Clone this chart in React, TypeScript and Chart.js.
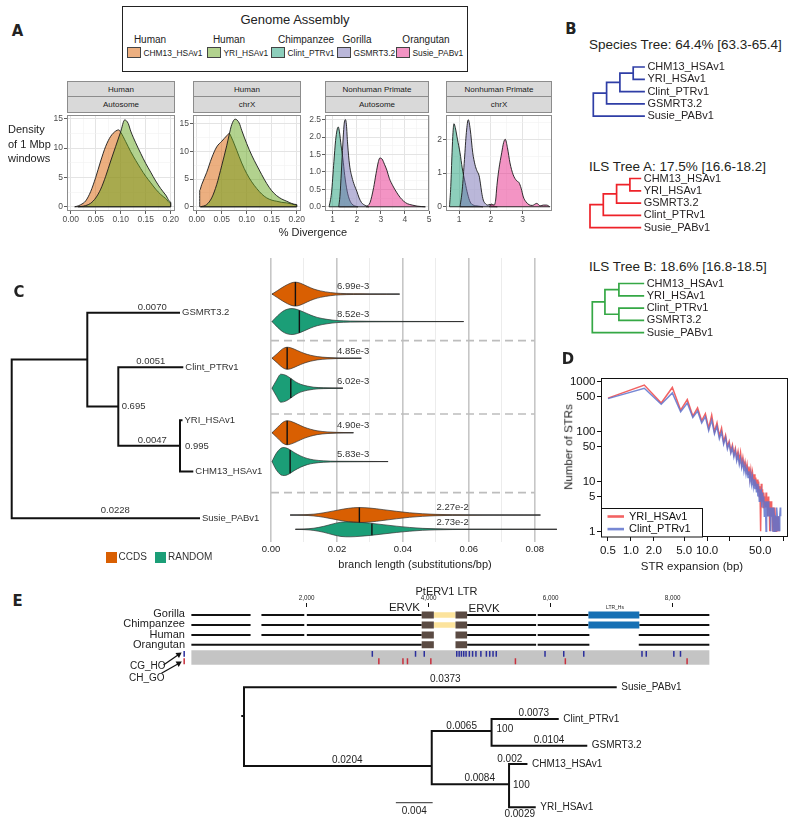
import React, { useEffect, useRef } from "react";
import { Chart, registerables } from "chart.js";

Chart.register(...registerables);

const FONT = '"Liberation Sans", Arial, Helvetica, sans-serif';
const NARROW = '"Liberation Sans Narrow", "DejaVu Sans Condensed", "Liberation Sans", Arial, sans-serif';
Chart.defaults.font.family = FONT;
Chart.defaults.color = "#222";

/* ===================== DATA ===================== */
// ---- Panel A ----
const assemblyNames = ["CHM13_HSAv1", "YRI_HSAv1", "Clint_PTRv1", "GSMRT3.2", "Susie_PABv1"];
const assemblySpecies = ["Human", "Human", "Chimpanzee", "Gorilla", "Orangutan"];
const facetGroup = ["Human", "Human", "Nonhuman Primate", "Nonhuman Primate"];
const facetChrom = ["Autosome", "chrX", "Autosome", "chrX"];

const humAutoCHM13X = [0.008, 0.015, 0.02, 0.03, 0.04, 0.05, 0.06, 0.07, 0.08, 0.09, 0.096, 0.1, 0.11, 0.12, 0.13, 0.14, 0.15, 0.16, 0.17, 0.18, 0.19, 0.2];
const humAutoCHM13Y = [0, 0.15, 0.35, 1.0, 2.6, 5.0, 7.8, 10.3, 12.0, 12.9, 13.1, 12.7, 11.1, 9.4, 7.9, 6.5, 5.2, 4.1, 3.0, 2.1, 1.4, 0.6];
const humAutoYRIX = [0.015, 0.025, 0.03, 0.04, 0.05, 0.06, 0.07, 0.08, 0.09, 0.1, 0.108, 0.115, 0.12, 0.13, 0.14, 0.15, 0.16, 0.17, 0.18, 0.19, 0.2];
const humAutoYRIY = [0, 0.1, 0.2, 0.6, 1.5, 3.0, 5.2, 7.8, 10.3, 12.8, 14.8, 14.2, 12.9, 10.9, 9.1, 7.4, 5.9, 4.4, 3.1, 2.0, 0.8];
const humXCHM13X = [0.006, 0.01, 0.02, 0.03, 0.04, 0.05, 0.06, 0.065, 0.07, 0.08, 0.09, 0.1, 0.11, 0.12, 0.13, 0.14, 0.15, 0.16, 0.17, 0.18, 0.19, 0.2];
const humXCHM13Y = [3.0, 4.0, 6.2, 8.8, 10.8, 11.8, 12.8, 13.2, 12.4, 10.2, 7.9, 6.0, 4.5, 3.3, 2.3, 1.6, 1.2, 1.0, 0.8, 0.7, 0.5, 0.3];
const humXYRIX = [0.008, 0.02, 0.03, 0.04, 0.05, 0.06, 0.065, 0.07, 0.077, 0.085, 0.09, 0.1, 0.11, 0.12, 0.13, 0.14, 0.15, 0.16, 0.17, 0.18, 0.19, 0.2];
const humXYRIY = [0, 0.4, 1.6, 4.0, 7.4, 11.0, 13.0, 14.8, 15.8, 15.1, 13.8, 11.4, 9.3, 7.5, 5.8, 4.2, 2.9, 2.0, 1.4, 1.0, 0.6, 0.4];
const nhpAutoClintX = [0.85, 0.95, 1.05, 1.12, 1.18, 1.23, 1.28, 1.35, 1.42, 1.5, 1.6, 1.7, 1.8, 1.9, 2.05];
const nhpAutoClintY = [0, 0.4, 1.3, 1.9, 2.2, 2.29, 2.15, 1.75, 1.4, 0.9, 0.45, 0.2, 0.08, 0.03, 0];
const nhpAutoGSMRTX = [1.25, 1.3, 1.36, 1.42, 1.48, 1.53, 1.57, 1.62, 1.7, 1.8, 1.9, 2.0, 2.1, 2.2, 2.35, 2.5];
const nhpAutoGSMRTY = [0, 0.3, 1.0, 1.8, 2.4, 2.5, 2.35, 1.8, 1.2, 0.85, 0.62, 0.45, 0.25, 0.12, 0.04, 0];
const nhpAutoSusieX = [2.4, 2.55, 2.7, 2.8, 2.9, 2.96, 3.05, 3.15, 3.25, 3.35, 3.5, 3.65, 3.8, 3.95, 4.1, 4.3, 4.5, 4.85];
const nhpAutoSusieY = [0, 0.12, 0.55, 0.95, 1.3, 1.4, 1.37, 1.22, 1.05, 0.82, 0.6, 0.42, 0.27, 0.16, 0.09, 0.05, 0.02, 0];
const nhpXClintX = [0.7, 0.74, 0.78, 0.81, 0.84, 0.88, 0.95, 1.03, 1.1, 1.19, 1.27, 1.35, 1.45, 1.6, 1.75];
const nhpXClintY = [0, 0.6, 1.6, 2.2, 2.46, 2.35, 2.0, 1.6, 1.15, 0.72, 0.38, 0.14, 0.05, 0.02, 0];
const nhpXGSMRTX = [1.03, 1.1, 1.17, 1.23, 1.29, 1.35, 1.43, 1.5, 1.56, 1.63, 1.67, 1.71, 1.76, 1.82, 1.9, 1.97, 2.05, 2.2];
const nhpXGSMRTY = [0, 0.5, 1.4, 2.2, 2.58, 2.3, 1.6, 1.25, 1.07, 0.92, 0.7, 0.43, 0.2, 0.1, 0.05, 0.07, 0.03, 0];
const nhpXSusieX = [1.95, 2.02, 2.1, 2.15, 2.19, 2.25, 2.34, 2.4, 2.45, 2.52, 2.6, 2.7, 2.81, 2.88, 2.95, 3.02, 3.1, 3.2, 3.3, 3.44, 3.55, 3.65, 3.75, 3.85];
const nhpXSusieY = [0, 0.08, 0.05, 0.2, 0.63, 1.1, 1.6, 1.9, 2.0, 1.75, 1.3, 0.95, 0.77, 0.72, 0.55, 0.29, 0.15, 0.06, 0.04, 0.1, 0.03, 0.05, 0.05, 0];

const aXTicks = [[0, 0.05, 0.1, 0.15, 0.2], [0, 0.05, 0.1, 0.15, 0.2], [1, 2, 3, 4, 5], [1, 2, 3]];
const aXTickLabels = [["0.00", "0.05", "0.10", "0.15", "0.20"], ["0.00", "0.05", "0.10", "0.15", "0.20"], ["1", "2", "3", "4", "5"], ["1", "2", "3"]];
const aYTicks = [[0, 5, 10, 15], [0, 5, 10, 15], [0, 0.5, 1, 1.5, 2, 2.5], [0, 1, 2]];
const aYTickLabels = [["0", "5", "10", "15"], ["0", "5", "10", "15"], ["0.0", "0.5", "1.0", "1.5", "2.0", "2.5"], ["0", "1", "2"]];

// ---- Panel B ----
const bTitles = ["Species Tree: 64.4% [63.3-65.4]", "ILS Tree A: 17.5% [16.6-18.2]", "ILS Tree B: 18.6% [16.8-18.5]"];
const bNames = [
  ["", "", "", "", "CHM13_HSAv1", "YRI_HSAv1", "Clint_PTRv1", "GSMRT3.2", "Susie_PABv1"],
  ["", "", "", "", "CHM13_HSAv1", "YRI_HSAv1", "GSMRT3.2", "Clint_PTRv1", "Susie_PABv1"],
  ["", "", "", "", "CHM13_HSAv1", "YRI_HSAv1", "Clint_PTRv1", "GSMRT3.2", "Susie_PABv1"],
];
const bParents = [
  [-1, 0, 1, 2, 3, 3, 2, 1, 0],
  [-1, 0, 1, 2, 3, 3, 2, 1, 0],
  [-1, 0, 1, 1, 2, 2, 3, 3, 0],
];
const bDepth = [
  [0, 1, 2, 3, 3.88, 3.88, 3.88, 3.88, 3.88],
  [0, 1, 2, 3, 3.85, 3.85, 3.85, 3.85, 3.85],
  [0, 0.95, 2, 2, 3.9, 3.9, 3.9, 3.9, 3.9],
];
const bRank = [-1, -1, -1, -1, 0, 1, 2, 3, 4];

// ---- Panel C: tree ----
const cNames = ["", "", "GSMRT3.2", "", "Clint_PTRv1", "", "YRI_HSAv1", "CHM13_HSAv1", "Susie_PABv1"];
const cParents = [-1, 0, 1, 1, 3, 3, 5, 5, 0];
const cDepth = [1.17, 8.73, 18.0, 11.83, 18.33, 18.0, 18.25, 19.33, 20.0];
const cRank = [-1, -1, 0, -1, 1.06, -1, 2.09, 3.09, 4];
const cBranchLabels = ["", "", "0.0070", "", "0.0051", "0.0047", "", "", "0.0228"];
const cSupport = ["", "", "", "0.695", "", "0.995", "", "", ""];

// ---- Panel C: violins ----
const violinSpecies = ["GSMRT3.2", "GSMRT3.2", "Clint_PTRv1", "Clint_PTRv1", "YRI_HSAv1", "YRI_HSAv1", "Susie_PABv1", "Susie_PABv1"];
const violinSet = ["CCDS", "RANDOM", "CCDS", "RANDOM", "CCDS", "RANDOM", "CCDS", "RANDOM"];
const vGsCcdsX = [0.0003, 0.002, 0.004, 0.006, 0.0074, 0.009, 0.011, 0.013, 0.015, 0.018, 0.021, 0.025, 0.03, 0.035, 0.039];
const vGsCcdsW = [0, 0.3, 0.65, 0.92, 1.0, 0.9, 0.65, 0.42, 0.27, 0.13, 0.06, 0.03, 0.015, 0.008, 0];
const vGsRandX = [0.0003, 0.002, 0.004, 0.0064, 0.008, 0.01, 0.012, 0.014, 0.017, 0.02, 0.024, 0.03, 0.04, 0.05, 0.0584];
const vGsRandW = [0, 0.45, 0.85, 1.0, 0.92, 0.72, 0.5, 0.32, 0.17, 0.08, 0.04, 0.02, 0.01, 0.005, 0];
const vPtCcdsX = [0.0003, 0.002, 0.0035, 0.0049, 0.006, 0.008, 0.01, 0.012, 0.014, 0.017, 0.02, 0.0274];
const vPtCcdsW = [0, 0.45, 0.85, 1.0, 0.95, 0.7, 0.45, 0.27, 0.15, 0.07, 0.03, 0];
const vPtRandX = [0.0003, 0.0015, 0.003, 0.0045, 0.006, 0.0075, 0.009, 0.011, 0.013, 0.016, 0.0218];
const vPtRandW = [0, 0.5, 1.0, 0.92, 0.7, 0.45, 0.28, 0.15, 0.07, 0.03, 0];
const vHsCcdsX = [0.0003, 0.002, 0.0035, 0.0049, 0.006, 0.008, 0.01, 0.012, 0.014, 0.017, 0.02, 0.025];
const vHsCcdsW = [0, 0.45, 0.85, 1.0, 0.95, 0.72, 0.47, 0.29, 0.16, 0.07, 0.03, 0];
const vHsRandX = [0.0003, 0.0015, 0.003, 0.004, 0.0055, 0.007, 0.009, 0.011, 0.013, 0.016, 0.02, 0.028, 0.0355];
const vHsRandW = [0, 0.55, 0.95, 1.0, 0.88, 0.65, 0.4, 0.22, 0.12, 0.05, 0.02, 0.01, 0];
const vPaCcdsX = [0.0058, 0.01, 0.013, 0.016, 0.019, 0.022, 0.025, 0.027, 0.03, 0.034, 0.038, 0.042, 0.046, 0.05, 0.055, 0.06, 0.07, 0.0817];
const vPaCcdsW = [0, 0.04, 0.12, 0.3, 0.55, 0.8, 0.97, 1.0, 0.93, 0.72, 0.5, 0.3, 0.17, 0.09, 0.04, 0.02, 0.01, 0];
const vPaRandX = [0.0074, 0.01, 0.013, 0.016, 0.019, 0.0212, 0.024, 0.027, 0.03, 0.034, 0.038, 0.042, 0.046, 0.05, 0.055, 0.06, 0.07, 0.0867];
const vPaRandW = [0, 0.04, 0.15, 0.4, 0.75, 0.95, 1.0, 0.93, 0.82, 0.62, 0.42, 0.25, 0.13, 0.07, 0.03, 0.015, 0.008, 0];
const violinMedians = [0.0074, 0.0086, 0.0049, 0.006, 0.0049, 0.0058, 0.0268, 0.0306];
const violinMeanLabels = ["6.99e-3", "8.52e-3", "4.85e-3", "6.02e-3", "4.90e-3", "5.83e-3", "2.27e-2", "2.73e-2"];
const cXTicks = [0, 0.02, 0.04, 0.06, 0.08];
const cXTickLabels = ["0.00", "0.02", "0.04", "0.06", "0.08"];
const cLegend = ["CCDS", "RANDOM"];

// ---- Panel D ----
const strExpansion = [0.5, 1.5, 2.5, 3.5, 4.5, 5.5, 6.5, 7.5, 8.5, 9.5, 10.5, 11.5, 12.5, 13.5, 14.5, 15.5, 16.5, 17.5, 18.5, 19.5, 20.5, 21.5, 22.5, 23.5, 24.5, 25.5, 26.5, 27.5, 28.5, 29.5, 30.5, 31.5, 32.5, 33.5, 34.5, 35.5, 36.5, 37.5, 38.5, 39.5, 40.5, 41.5, 42.5, 43.5, 44.5, 45.5, 46.5, 47.5, 48.5, 49.5, 50.5, 51.5, 52.5, 53.5, 54.5, 55.5, 56.5, 57.5, 58.5, 59.5, 60.5, 61.5, 62.5, 63.5, 64.5, 65.5, 66.5, 67.5, 68.5, 69.5, 70.5, 71.5, 72.5, 73.5, 74.5, 75.5, 76.5, 77.5, 78.5, 79.5, 80.5, 81.5, 82.5, 83.5, 84.5, 85.5, 86.5, 87.5, 88.5, 89.5, 90.5, 91.5, 92.5];
const strCountYRI = [470, 860, 375, 770, 270, 440, 205, 300, 165, 230,
  118, 215, 100, 150, 82, 118, 62, 85, 50, 64,
  40, 54, 35, 46, 30, 40, 26, 38, 22, 30,
  20, 25, 17, 22, 14, 20, 12, 17, 11, 15,
  10, 14, 8, 12, 7, 11, 6, 10, 5, 8,
  1, 9, 4, 7, 3, 6, 4, 5, 3, 6,
  3, 4, 2, 5, 3, 4, 1, 3, 2, 4,
  2, 3, 1, 3, 2, 2, 1, 3, 2, 2,
  1, 2, 1, 2, 1, 2, 1, 2, 1];
const strCountClint = [460, 740, 355, 600, 250, 375, 192, 260, 150, 200,
  105, 170, 90, 128, 72, 98, 56, 76, 45, 58,
  37, 48, 31, 41, 26, 34, 22, 29, 19, 25,
  16, 21, 14, 18, 12, 16, 10, 14, 9, 12,
  8, 11, 7, 10, 6, 9, 5, 8, 4, 7,
  5, 6, 3, 6, 4, 5, 2, 4, 3, 1,
  4, 3, 2, 4, 2, 3, 2, 3, 1, 3,
  2, 2, 3, 1, 2, 3, 2, 2, 1, 2,
  2, 1, 3, 2, 1, 2, 2, 1, 2, 1,
  2, 3, 2];
const dSeriesNames = ["YRI_HSAv1", "Clint_PTRv1"];
const dXTicks = [0.5, 1, 2, 5, 10, 20, 50, 100];
const dXTickLabels = ["0.5", "1.0", "2.0", "5.0", "10.0", "", "50.0", ""];
const dYTicks = [1, 5, 10, 50, 100, 500, 1000];
const dYTickLabels = ["1", "5", "10", "50", "100", "500", "1000"];

// ---- Panel E: alignment ----
const alignRows = ["Gorilla", "Chimpanzee", "Human", "Orangutan"];
const alignExtent = [113, 8601];
const alignSegments = [
  [[113, 1083], [1261, 1963], [2005, 3887], [4631, 5762], [5788, 6619], [7453, 8601]],
  [[113, 1083], [1261, 1963], [2005, 3887], [4631, 5762], [5788, 6619], [7453, 8601]],
  [[113, 1083], [1261, 1963], [2005, 3887], [4631, 5762], [5788, 6635], [7444, 8601]],
  [[113, 3887], [4631, 5762], [5788, 6635], [7444, 8601]],
];
const ervkSpans = [[3887, 4086], [4441, 4631]];
const ervkRows = [0, 1, 2, 3];
const ptervSpan = [4086, 4441];
const ptervRows = [0, 1];
const ltrHsSpan = [6619, 7453];
const ltrHsRows = [0, 1];
const positionTicks = [2000, 4000, 6000, 8000];
const positionTickLabels = ["2,000", "4,000", "6,000", "8,000"];
const snvCG_HO = [3078, 3786, 3929, 4462, 4501, 4538, 4576, 4614, 4668, 4721, 4776, 4857, 4947, 5002, 5056, 5109, 5908, 6215, 6543, 7497, 7567, 8019, 8128];
const snvCH_GO = [3185, 3580, 3654, 4037, 5423, 6241, 8236];

// ---- Panel E: tree ----
const eNames = ["", "Susie_PABv1", "", "", "Clint_PTRv1", "GSMRT3.2", "", "CHM13_HSAv1", "YRI_HSAv1"];
const eParents = [-1, 0, 0, 2, 3, 3, 2, 6, 6];
const eBranchLen = [0, 0.0405, 0.0204, 0.0065, 0.0073, 0.0104, 0.0084, 0.002, 0.0029];
const eBranchLabels = ["", "0.0373", "0.0204", "0.0065", "0.0073", "0.0104", "0.0084", "0.002", "0.0029"];
const eSupport = ["", "", "", "100", "", "", "100", "", ""];
const eScaleBarLen = 0.004;
const eScaleBarLabel = "0.004";

/* ===================== STYLE / LAYOUT ===================== */
const assemblyFill = ["rgba(217,95,2,0.5)", "rgba(102,166,30,0.5)", "rgba(27,158,119,0.5)", "rgba(117,112,179,0.5)", "rgba(231,41,138,0.5)"];
const A_PLOT = { left: [67, 193, 325, 446], right: [175, 301, 429, 552], top: 113, bottom: 211 };
const A_XRANGE = [[-0.0074, 0.2086], [-0.0074, 0.2086], [0.68, 5.0], [0.59, 3.92]];
const A_YRANGE = [[-0.72, 15.62], [-0.76, 16.53], [-0.12, 2.63], [-0.125, 2.716]];
const A_LEG_SW_X = [127, 207, 271, 337, 396];
const A_LEG_SPECIES_X = [150, 229, 306, 357, 426];
const B_LAYOUT = [
  { rootPx: 593.3, leafY: 67, titleY: 45, color: "#2f3ea6" },
  { rootPx: 590, leafY: 178.5, titleY: 166.7, color: "#ee2229" },
  { rootPx: 592.3, leafY: 283.5, titleY: 266.7, color: "#35a845" },
];
const VIOLIN_CENTER = [1.29, 2.27, 3.58, 4.65, 6.24, 7.27, 9.18, 9.69];
const VIOLIN_HALF_PX = [12, 13, 11, 14, 12, 14, 7.5, 7.5];
const VIOLIN_LABEL_X = [0.02, 0.02, 0.02, 0.02, 0.02, 0.02, 0.0502, 0.0502];
const VIOLIN_SEPARATORS = [2.95, 5.57, 8.38];
const setColor: any = { CCDS: "#d95f02", RANDOM: "#1b9e77" };
const C_LABEL_F = [0, 0, 0.7, 0, 0.5, 0.55, 0, 0, 0.55];
const C_LABEL_DY = [0, 0, -5, 0, -5.5, -5, 0, 0, -7.5];
const E_NODE_Y = [4.1, 1.23, 9.1, 5.6, 4.4, 7.07, 10.93, 8.9, 13.23];
const E_LABEL_F = [0, 0.54, 0.55, 0.5, 0.63, 0.6, 0.62, 0.04, 0.4];
const E_LABEL_DY = [0, -8, -5.5, -5, -5.3, -5, -6, -4.7, 6.7];

/* ===================== HELPERS ===================== */
const baseOpts = (): any => ({
  animation: false,
  responsive: false,
  maintainAspectRatio: false,
  events: [],
  plugins: {
    legend: { display: false },
    tooltip: { enabled: false },
    filler: { drawTime: "beforeDatasetDraw", propagate: false },
  },
  elements: { point: { radius: 0, hitRadius: 0 }, line: { borderJoinStyle: "miter" } },
});

const hiddenScale = (min: number, max: number, reverse = false): any => ({ type: "linear", display: false, min, max, reverse, bounds: "data" });

type TextItem = { x: number; y: number; text: string; dx?: number; dy?: number; align?: string; size?: number; color?: string };
function textPlugin(items: TextItem[]) {
  return {
    id: "dataText",
    afterDatasetsDraw(chart: any) {
      const { ctx, scales } = chart;
      ctx.save();
      for (const t of items) {
        const px = scales.x.getPixelForValue(t.x) + (t.dx || 0);
        const py = scales.y.getPixelForValue(t.y) + (t.dy || 0);
        ctx.font = `${t.size || 10}px ${FONT}`;
        ctx.fillStyle = t.color || "#222";
        ctx.textAlign = t.align || "left";
        ctx.textBaseline = "middle";
        ctx.fillText(t.text, px, py);
      }
      ctx.restore();
    },
  };
}

function framePlugin(color: string, width = 1) {
  return {
    id: "frame",
    afterDatasetsDraw(chart: any) {
      const { ctx, chartArea: a } = chart;
      ctx.save();
      ctx.strokeStyle = color;
      ctx.lineWidth = width;
      ctx.strokeRect(Math.round(a.left) + 0.5, Math.round(a.top) + 0.5, Math.round(a.right - a.left) - 1, Math.round(a.bottom - a.top) - 1);
      ctx.restore();
    },
  };
}

function cladeY(parents: number[], rank: number[]) {
  const n = parents.length;
  const kids: number[][] = Array.from({ length: n }, () => []);
  parents.forEach((p, i) => { if (p >= 0) kids[p].push(i); });
  const y: number[] = new Array(n).fill(0);
  const f = (i: number): number => {
    if (kids[i].length === 0) { y[i] = rank[i]; return y[i]; }
    const v = kids[i].map(f);
    y[i] = v.reduce((a, b) => a + b, 0) / v.length;
    return y[i];
  };
  f(parents.indexOf(-1));
  return y;
}

function cumulativeX(parents: number[], len: number[]) {
  const x: number[] = [];
  const f = (i: number): number => {
    if (x[i] !== undefined) return x[i];
    x[i] = parents[i] < 0 ? 0 : f(parents[i]) + len[i];
    return x[i];
  };
  parents.forEach((_, i) => f(i));
  return x;
}

function treeLines(parents: number[], xs: number[], ys: number[]) {
  const pts: any[] = [];
  parents.forEach((p, i) => {
    if (p < 0) return;
    pts.push({ x: xs[p], y: ys[p] }, { x: xs[p], y: ys[i] }, { x: xs[i], y: ys[i] }, { x: null, y: null });
  });
  return pts;
}

function interp(xs: number[], ws: number[], m: number) {
  for (let i = 1; i < xs.length; i++) {
    if (m <= xs[i]) {
      const t = (m - xs[i - 1]) / (xs[i] - xs[i - 1]);
      return ws[i - 1] + t * (ws[i] - ws[i - 1]);
    }
  }
  return 0;
}

const near = (arr: number[], v: number) => arr.findIndex((a) => Math.abs(a - v) < 1e-9);
const midpoints = (arr: number[], min: number, max: number) => {
  const step = arr[1] - arr[0];
  const out: number[] = [];
  for (let v = arr[0] - step / 2; v <= max; v += step) if (v >= min) out.push(v);
  return out.filter((v) => near(arr, v) < 0);
};

/* ===================== CONFIGS ===================== */
const A_SERIES = [
  [{ xs: humAutoCHM13X, ys: humAutoCHM13Y, k: 0 }, { xs: humAutoYRIX, ys: humAutoYRIY, k: 1 }],
  [{ xs: humXCHM13X, ys: humXCHM13Y, k: 0 }, { xs: humXYRIX, ys: humXYRIY, k: 1 }],
  [{ xs: nhpAutoClintX, ys: nhpAutoClintY, k: 2 }, { xs: nhpAutoGSMRTX, ys: nhpAutoGSMRTY, k: 3 }, { xs: nhpAutoSusieX, ys: nhpAutoSusieY, k: 4 }],
  [{ xs: nhpXClintX, ys: nhpXClintY, k: 2 }, { xs: nhpXGSMRTX, ys: nhpXGSMRTY, k: 3 }, { xs: nhpXSusieX, ys: nhpXSusieY, k: 4 }],
];

function aAxis(major: number[], labels: string[], min: number, max: number, horizontal: boolean): any {
  const minor = midpoints(major, min, max);
  const all = [...major, ...minor].sort((a, b) => a - b);
  const isMajor = (c: any) => c.tick && near(major, c.tick.value) >= 0;
  return {
    type: "linear",
    min, max, bounds: "data",
    afterFit: (s: any) => { if (horizontal) s.height = 16; else s.width = 30; },
    afterBuildTicks: (s: any) => { s.ticks = all.map((v) => ({ value: v })); },
    ticks: {
      autoSkip: false, maxRotation: 0, padding: horizontal ? 0.5 : 1,
      font: { size: 8.5 }, color: "#4d4d4d",
      callback: (v: number) => { const i = near(major, v); return i >= 0 ? labels[i] : ""; },
    },
    grid: {
      color: (c: any) => (isMajor(c) ? "#e4e4e4" : "#f1f1f1"),
      lineWidth: (c: any) => (isMajor(c) ? 1 : 0.6),
      tickLength: 3,
      tickColor: (c: any) => (isMajor(c) ? "#333" : "rgba(0,0,0,0)"),
      tickWidth: 0.8,
    },
    border: { display: false },
  };
}

function aConfig(i: number) {
  const datasets: any[] = [];
  A_SERIES[i].forEach((s, j) => {
    const pts = s.xs.map((x, n) => ({ x, y: s.ys[n] }));
    const x0 = s.xs[0], x1 = s.xs[s.xs.length - 1];
    if (s.ys[0] > 0) pts.unshift({ x: x0, y: 0 });
    if (s.ys[s.ys.length - 1] > 0) pts.push({ x: x1, y: 0 });
    datasets.push({ data: pts, borderColor: "#1a1a1a", borderWidth: 0.9, backgroundColor: assemblyFill[s.k], fill: "origin", cubicInterpolationMode: "monotone", order: 20 - j * 2 });
    datasets.push({ data: [{ x: x0, y: 0 }, { x: x1, y: 0 }], borderColor: "#1a1a1a", borderWidth: 0.9, fill: false, order: 19 - j * 2 });
  });
  return {
    type: "line",
    data: { datasets },
    options: {
      ...baseOpts(),
      layout: { padding: { top: 4, right: 12, left: 0, bottom: 0 } },
      scales: {
        x: aAxis(aXTicks[i], aXTickLabels[i], A_XRANGE[i][0], A_XRANGE[i][1], true),
        y: aAxis(aYTicks[i], aYTickLabels[i], A_YRANGE[i][0], A_YRANGE[i][1], false),
      },
    },
    plugins: [framePlugin("#8c8c8c", 1)],
  };
}

function bTree(k: number) {
  const L = B_LAYOUT[k];
  const left = Math.floor(L.rootPx) - 6;
  const top = Math.floor(L.leafY) - 9;
  const W = 212, H = 66, pxX = 13.3, pxY = 12.3;
  const xMin = -(L.rootPx - left) / pxX;
  const yMin = -(L.leafY - top) / pxY;
  const ys = cladeY(bParents[k], bRank);
  const xs = bDepth[k];
  const labels: TextItem[] = [];
  bNames[k].forEach((n, i) => { if (n) labels.push({ x: xs[i], y: ys[i], text: n, dx: 2.5, size: 11, color: "#231f20" }); });
  const config = {
    type: "line",
    data: { datasets: [{ data: treeLines(bParents[k], xs, ys), borderColor: L.color, borderWidth: 1.7, fill: false }] },
    options: { ...baseOpts(), scales: { x: hiddenScale(xMin, xMin + W / pxX), y: hiddenScale(yMin, yMin + H / pxY, true) } },
    plugins: [textPlugin(labels)],
  };
  return { left, top, W, H, config };
}

function cTreeConfig() {
  const ys = cladeY(cParents, cRank);
  const xs = cDepth;
  const labels: TextItem[] = [];
  cNames.forEach((n, i) => { if (n) labels.push({ x: xs[i], y: ys[i], text: n, dx: 2, size: 9.5, color: "#333" }); });
  cBranchLabels.forEach((t, i) => {
    if (!t) return;
    const p = cParents[i];
    labels.push({ x: xs[p] + C_LABEL_F[i] * (xs[i] - xs[p]), y: ys[i], text: t, dy: C_LABEL_DY[i], align: "center", size: 9.5, color: "#333" });
  });
  cSupport.forEach((t, i) => { if (t) labels.push({ x: xs[i], y: ys[i], text: t, dx: i === 5 ? 5 : 3.4, dy: i === 5 ? 1 : 0, size: 9.5, color: "#333" }); });
  const pxY = 51.4;
  const yMin = -(312.7 - 290) / pxY;
  return {
    type: "line",
    data: { datasets: [{ data: treeLines(cParents, xs, ys), borderColor: "#111", borderWidth: 2, fill: false }] },
    options: { ...baseOpts(), scales: { x: hiddenScale(0, 26.8), y: hiddenScale(yMin, yMin + 250 / pxY, true) } },
    plugins: [textPlugin(labels)],
  };
}

const violinProfiles = [
  [vGsCcdsX, vGsCcdsW], [vGsRandX, vGsRandW], [vPtCcdsX, vPtCcdsW], [vPtRandX, vPtRandW],
  [vHsCcdsX, vHsCcdsW], [vHsRandX, vHsRandW], [vPaCcdsX, vPaCcdsW], [vPaRandX, vPaRandW],
];

function violinConfig() {
  const unit = 28;
  const datasets: any[] = [];
  VIOLIN_SEPARATORS.forEach((y) => {
    datasets.push({ data: [{ x: 0, y }, { x: 0.08, y }], borderColor: "#bdbdbd", borderWidth: 1.6, borderDash: [8, 5], fill: false, order: 50 });
  });
  violinProfiles.forEach(([xs, ws], i) => {
    const c = VIOLIN_CENTER[i];
    const h = VIOLIN_HALF_PX[i] / unit;
    const col = setColor[violinSet[i]];
    datasets.push({ data: [{ x: xs[0], y: c }, { x: xs[xs.length - 1], y: c }], borderColor: "#3a3a3a", borderWidth: 1, fill: false, order: 40, clip: false });
    datasets.push({ data: xs.map((x, n) => ({ x, y: c - ws[n] * h })), borderColor: "#333", borderWidth: 0.7, fill: false, cubicInterpolationMode: "monotone", order: 20, clip: false });
    datasets.push({ data: xs.map((x, n) => ({ x, y: c + ws[n] * h })), borderColor: "#333", borderWidth: 0.7, backgroundColor: col, fill: "-1", cubicInterpolationMode: "monotone", order: 30, clip: false });
    const m = violinMedians[i];
    const wm = interp(xs, ws, m) * h;
    datasets.push({ data: [{ x: m, y: c - wm }, { x: m, y: c + wm }], borderColor: "#111", borderWidth: 1.4, fill: false, order: 10 });
  });
  const labels: TextItem[] = violinMeanLabels.map((t, i) => ({ x: VIOLIN_LABEL_X[i], y: VIOLIN_CENTER[i], text: t, dy: -7.3, size: 9.5, color: "#333" }));
  const minor = [0.01, 0.03, 0.05, 0.07];
  const all = [...cXTicks, ...minor].sort((a, b) => a - b);
  const isMajor = (c: any) => c.tick && near(cXTicks, c.tick.value) >= 0;
  return {
    type: "line",
    data: { datasets },
    options: {
      ...baseOpts(),
      layout: { padding: { left: 16, right: 18, top: 0, bottom: 0 } },
      scales: {
        x: {
          type: "linear", min: 0, max: 0.0843, bounds: "data",
          afterFit: (s: any) => { s.height = 20; },
          afterBuildTicks: (s: any) => { s.ticks = all.map((v) => ({ value: v })); },
          ticks: { autoSkip: false, maxRotation: 0, padding: 2, font: { size: 9.5 }, color: "#222", callback: (v: number) => { const i = near(cXTicks, v); return i >= 0 ? cXTickLabels[i] : ""; } },
          grid: { drawTicks: false, color: (c: any) => (isMajor(c) ? "#c6c6c6" : "#ececec"), lineWidth: (c: any) => (isMajor(c) ? 1.6 : 1) },
          border: { display: false },
        },
        y: hiddenScale(0, 284 / unit, true),
      },
    },
    plugins: [textPlugin(labels)],
  };
}

const dLegendPlugin = {
  id: "dLegend",
  afterDatasetsDraw(chart: any) {
    const { ctx, chartArea: a } = chart;
    const x = Math.round(a.left) + 0.5, y = Math.round(a.bottom) - 29 + 0.5;
    ctx.save();
    ctx.fillStyle = "#fff";
    ctx.fillRect(x, y, 101, 28.5);
    ctx.strokeStyle = "#111";
    ctx.lineWidth = 1;
    ctx.strokeRect(x, y, 101, 28.5);
    chart.data.datasets.forEach((d: any, i: number) => {
      const yy = y + 8 + i * 12.6;
      ctx.strokeStyle = d.borderColor;
      ctx.lineWidth = 2.6;
      ctx.beginPath();
      ctx.moveTo(x + 6, yy);
      ctx.lineTo(x + 22.5, yy);
      ctx.stroke();
      ctx.fillStyle = "#111";
      ctx.font = `11px ${FONT}`;
      ctx.textBaseline = "middle";
      ctx.textAlign = "left";
      ctx.fillText(d.label, x + 27.5, yy);
    });
    ctx.restore();
  },
};

function dConfig() {
  const counts = [strCountYRI, strCountClint];
  const colors = ["rgba(240,70,70,0.85)", "rgba(95,115,205,0.85)"];
  const datasets = counts.map((vals, k) => ({
    label: dSeriesNames[k],
    data: vals.map((v, i) => ({ x: strExpansion[i], y: v })),
    borderColor: colors[k],
    borderWidth: 1.5,
    fill: false,
    order: 2 - k,
  }));
  const axis = (ticks: number[], labels: string[], min: number, max: number, horizontal: boolean): any => ({
    type: "logarithmic", min, max, bounds: "data",
    afterFit: (s: any) => { if (horizontal) s.height = 23; else s.width = 45; },
    afterBuildTicks: (s: any) => { s.ticks = ticks.map((v) => ({ value: v })); },
    ticks: { autoSkip: false, maxRotation: 0, padding: horizontal ? 3 : 1.5, font: { size: 11.5 }, color: "#111", callback: (v: number, i: number) => labels[i] },
    grid: { drawOnChartArea: false, tickLength: 4, tickColor: "#111", tickWidth: 1 },
    border: { display: false },
  });
  return {
    type: "line",
    data: { datasets },
    options: {
      ...baseOpts(),
      layout: { padding: { top: 8, right: 8, left: 0, bottom: 0 } },
      scales: {
        x: axis(dXTicks, dXTickLabels, 0.405, 115.5, true),
        y: axis(dYTicks, dYTickLabels, 0.77, 1170, false),
      },
    },
    plugins: [framePlugin("#111", 1), dLegendPlugin],
  };
}

function alignConfig() {
  const rowLines: any[] = [];
  alignSegments.forEach((segs, r) => segs.forEach(([a, b]) => rowLines.push({ x: a, y: r }, { x: b, y: r }, { x: null, y: null })));
  const boxes = (spans: number[][], rows: number[]) => {
    const pts: any[] = [];
    rows.forEach((r) => spans.forEach(([a, b]) => pts.push({ x: a, y: r }, { x: b, y: r }, { x: null, y: null })));
    return pts;
  };
  const ticks = (pos: number[], y0: number, y1: number) => pos.flatMap((p) => [{ x: p, y: y0 }, { x: p, y: y1 }, { x: null, y: null }]);
  const TRACK_Y = 4.28, LEG_X = -5;
  const datasets: any[] = [
    { data: [{ x: alignExtent[0], y: TRACK_Y }, { x: alignExtent[1], y: TRACK_Y }], borderColor: "#c4c4c4", borderWidth: 14.6, order: 9 },
    { data: rowLines, borderColor: "#111", borderWidth: 2, order: 8 },
    { data: boxes(ervkSpans, ervkRows), borderColor: "#5b4b43", borderWidth: 7, order: 7 },
    { data: boxes([ptervSpan], ptervRows), borderColor: "#fce39c", borderWidth: 5.5, order: 7 },
    { data: boxes([ltrHsSpan], ltrHsRows), borderColor: "#1670b4", borderWidth: 7, order: 7 },
    { data: ticks(snvCG_HO, 3.62, 4.22), borderColor: "#2b2f9c", borderWidth: 1.5, order: 6 },
    { data: ticks(snvCH_GO, 4.36, 4.96), borderColor: "#c8303d", borderWidth: 1.5, order: 6 },
    { data: ticks([LEG_X], 3.62, 4.22), borderColor: "#2b2f9c", borderWidth: 1.5, order: 6 },
    { data: ticks([LEG_X], 4.36, 4.96), borderColor: "#c8303d", borderWidth: 1.5, order: 6 },
    { data: [{ x: -344, y: 5.05 }, { x: -95, y: 3.98 }], borderColor: "#111", borderWidth: 1.2, pointRadius: [0, 3.6], pointStyle: "triangle", pointRotation: 55, pointBackgroundColor: "#111", pointBorderWidth: 0, order: 5, clip: false },
    { data: [{ x: -377, y: 5.88 }, { x: -95, y: 4.88 }], borderColor: "#111", borderWidth: 1.2, pointRadius: [0, 3.6], pointStyle: "triangle", pointRotation: 60, pointBackgroundColor: "#111", pointBorderWidth: 0, order: 5, clip: false },
  ];
  return {
    type: "line",
    data: { datasets },
    options: {
      ...baseOpts(),
      scales: {
        x: {
          type: "linear", position: "top", min: -991.1, max: 8709.8, bounds: "data",
          afterFit: (s: any) => { s.height = 14; },
          afterBuildTicks: (s: any) => { s.ticks = positionTicks.map((v) => ({ value: v })); },
          ticks: { autoSkip: false, maxRotation: 0, padding: 0.5, font: { size: 6.3 }, color: "#222", callback: (v: number, i: number) => positionTickLabels[i] },
          grid: { drawOnChartArea: false, tickLength: 4, tickColor: "#111", tickWidth: 1 },
          border: { display: false },
        },
        y: hiddenScale(-0.817, 7.163, true),
      },
    },
  };
}

function eTreeConfig() {
  const xs = cumulativeX(eParents, eBranchLen);
  const ys = E_NODE_Y;
  const labels: TextItem[] = [];
  eNames.forEach((n, i) => { if (n) labels.push({ x: xs[i], y: ys[i], text: n, dx: 4.5, size: 10, color: "#222" }); });
  eBranchLabels.forEach((t, i) => {
    if (!t) return;
    const p = eParents[i];
    labels.push({ x: xs[p] + E_LABEL_F[i] * (xs[i] - xs[p]), y: ys[i], text: t, dy: E_LABEL_DY[i], align: "center", size: 10, color: "#222" });
  });
  eSupport.forEach((t, i) => { if (t) labels.push({ x: xs[i], y: ys[i], text: t, dx: i === 3 ? 5 : 4, dy: i === 3 ? -1.7 : 1.4, size: 10, color: "#222" }); });
  const SB_X = 0.0165, SB_Y = 12.77;
  labels.push({ x: SB_X + eScaleBarLen / 2, y: SB_Y, text: eScaleBarLabel, dy: 9, align: "center", size: 10, color: "#222" });
  const xMin = -0.004781;
  return {
    type: "line",
    data: {
      datasets: [
        { data: treeLines(eParents, xs, ys), borderColor: "#111", borderWidth: 2, fill: false },
        { data: [{ x: -0.0003, y: ys[0] }, { x: 0, y: ys[0] }], borderColor: "#111", borderWidth: 2, fill: false },
        { data: [{ x: SB_X, y: SB_Y }, { x: SB_X + eScaleBarLen, y: SB_Y }], borderColor: "#555", borderWidth: 1.2, fill: false },
      ],
    },
    options: { ...baseOpts(), scales: { x: hiddenScale(xMin, xMin + 560 / 9203), y: hiddenScale(-1.2, 14.6, true) } },
    plugins: [textPlugin(labels)],
  };
}

/* ===================== COMPONENTS ===================== */
function ChartCanvas({ left, top, width, height, make }: any) {
  const ref = useRef<HTMLCanvasElement | null>(null);
  useEffect(() => {
    if (!ref.current) return;
    const chart = new Chart(ref.current, make());
    return () => chart.destroy();
  }, []);
  return <canvas ref={ref} width={width} height={height} style={{ position: "absolute", left, top, width, height }} />;
}

function Txt({ x, y, children, size = 11, anchor = "start", weight = 400, color = "#222", family = FONT, rotate = 0 }: any) {
  const tx = anchor === "start" ? "0" : anchor === "middle" ? "-50%" : "-100%";
  return (
    <div
      style={{
        position: "absolute", left: x, top: y,
        transform: `translate(${tx}, -50%)` + (rotate ? ` rotate(${rotate}deg)` : ""),
        fontSize: size, fontWeight: weight, color, fontFamily: family,
        whiteSpace: "nowrap", lineHeight: 1,
      }}
    >
      {children}
    </div>
  );
}

const stripStyle = (left: number, top: number, width: number, height: number): any => ({
  position: "absolute", left, top, width, height, background: "#d9d9d9", border: "1px solid #8c8c8c",
  boxSizing: "border-box", fontSize: 8, display: "flex", alignItems: "center", justifyContent: "center",
  color: "#1a1a1a", fontFamily: FONT, whiteSpace: "nowrap",
});

export default function App() {
  const bTrees = [0, 1, 2].map(bTree);
  return (
    <div style={{ position: "absolute", left: 0, top: 0, width: 800, height: 821, background: "#fff", overflow: "hidden", fontFamily: FONT, color: "#222" }}>
      {/* ---------- Panel A ---------- */}
      <Txt x={17.5} y={31} size={16.5} weight={700} family={NARROW} anchor="middle">A</Txt>
      <div style={{ position: "absolute", left: 122, top: 6, width: 346, height: 66, border: "1px solid #222", boxSizing: "border-box" }} />
      <Txt x={295} y={18.5} size={13} anchor="middle">Genome Assembly</Txt>
      {assemblySpecies.map((s, i) => (
        <Txt key={"sp" + i} x={A_LEG_SPECIES_X[i]} y={39.5} size={10} anchor="middle">{s}</Txt>
      ))}
      {assemblyNames.map((n, i) => (
        <React.Fragment key={n}>
          <div style={{ position: "absolute", left: A_LEG_SW_X[i], top: 46.5, width: 14, height: 11, background: assemblyFill[i], border: "1px solid #444", boxSizing: "border-box" }} />
          <Txt x={A_LEG_SW_X[i] + 16.5} y={52.5} size={8.4}>{n}</Txt>
        </React.Fragment>
      ))}
      {facetGroup.map((g, i) => (
        <React.Fragment key={"f" + i}>
          <div style={stripStyle(A_PLOT.left[i], 81, A_PLOT.right[i] - A_PLOT.left[i], 16)}>{g}</div>
          <div style={stripStyle(A_PLOT.left[i], 96, A_PLOT.right[i] - A_PLOT.left[i], 17)}>{facetChrom[i]}</div>
          <ChartCanvas
            left={A_PLOT.left[i] - 30}
            top={A_PLOT.top - 4}
            width={30 + A_PLOT.right[i] - A_PLOT.left[i] + 12}
            height={4 + (A_PLOT.bottom - A_PLOT.top) + 16}
            make={() => aConfig(i)}
          />
        </React.Fragment>
      ))}
      <Txt x={8} y={128.5} size={11}>Density</Txt>
      <Txt x={8} y={143.5} size={11}>of 1 Mbp</Txt>
      <Txt x={8} y={158} size={11}>windows</Txt>
      <Txt x={313} y={232} size={11} anchor="middle">% Divergence</Txt>

      {/* ---------- Panel B ---------- */}
      <Txt x={571} y={29} size={16.5} weight={700} family={NARROW} anchor="middle">B</Txt>
      {bTrees.map((t, k) => (
        <React.Fragment key={"b" + k}>
          <Txt x={589} y={B_LAYOUT[k].titleY} size={13.5} color="#231f20">{bTitles[k]}</Txt>
          <ChartCanvas left={t.left} top={t.top} width={t.W} height={t.H} make={() => t.config} />
        </React.Fragment>
      ))}

      {/* ---------- Panel C ---------- */}
      <Txt x={19} y={292} size={16.5} weight={700} family={NARROW} anchor="middle">C</Txt>
      <ChartCanvas left={0} top={290} width={268} height={250} make={cTreeConfig} />
      <ChartCanvas left={255} top={258} width={312} height={304} make={violinConfig} />
      <Txt x={415} y={564} size={11} anchor="middle">branch length (substitutions/bp)</Txt>
      {cLegend.map((n, i) => (
        <React.Fragment key={n}>
          <div style={{ position: "absolute", left: [106, 155][i], top: 551.5, width: 11, height: 11.5, background: setColor[n] }} />
          <Txt x={[118.5, 168][i]} y={557} size={10} color="#333">{n}</Txt>
        </React.Fragment>
      ))}

      {/* ---------- Panel D ---------- */}
      <Txt x={568} y={359} size={16.5} weight={700} family={NARROW} anchor="middle">D</Txt>
      <ChartCanvas left={556} top={370} width={240} height={190} make={dConfig} />
      <Txt x={568.5} y={446.5} size={11.5} anchor="middle" rotate={-90}>Number of STRs</Txt>
      <Txt x={692} y={567} size={11.5} anchor="middle">STR expansion (bp)</Txt>

      {/* ---------- Panel E ---------- */}
      <Txt x={17.5} y={601} size={16.5} weight={700} family={NARROW} anchor="middle">E</Txt>
      <ChartCanvas left={120} top={593} width={600} height={97} make={alignConfig} />
      {alignRows.map((r, i) => (
        <Txt key={r} x={185} y={[612.5, 623, 633.5, 643.5][i]} size={11} anchor="end">{r}</Txt>
      ))}
      <Txt x={446.5} y={591} size={11} anchor="middle">PtERV1 LTR</Txt>
      <Txt x={420} y={607.5} size={11.5} anchor="end">ERVK</Txt>
      <Txt x={468.5} y={608.5} size={11.5}>ERVK</Txt>
      <Txt x={615} y={606.5} size={5} anchor="middle">LTR_Hs</Txt>
      <Txt x={130} y={666} size={10}>CG_HO</Txt>
      <Txt x={129} y={678} size={10}>CH_GO</Txt>
      <ChartCanvas left={200} top={663} width={560} height={158} make={eTreeConfig} />
    </div>
  );
}
